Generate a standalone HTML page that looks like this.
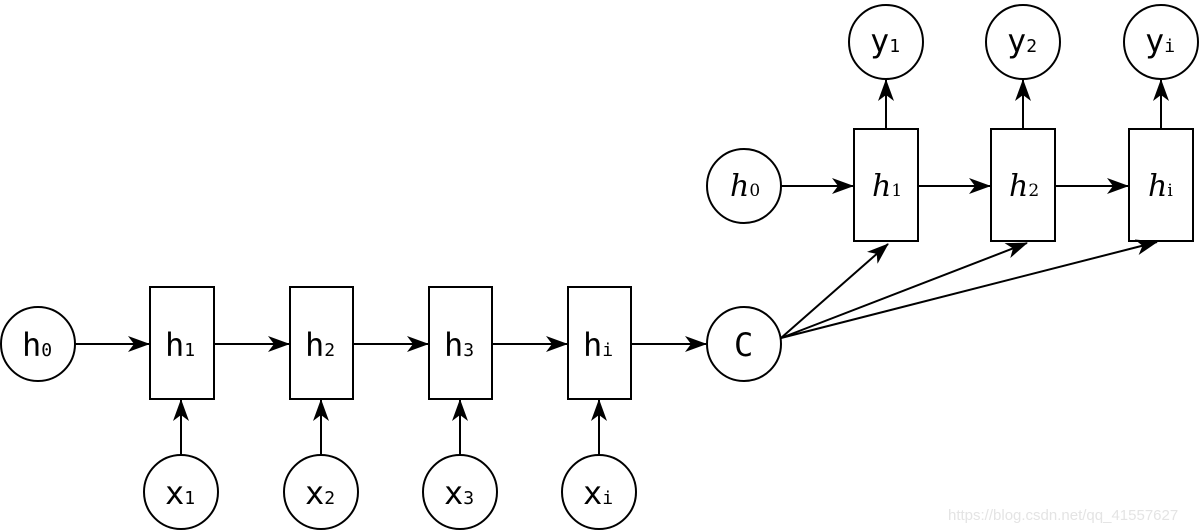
<!DOCTYPE html>
<html><head><meta charset="utf-8"><style>
html,body{margin:0;padding:0;background:#fff;width:1200px;height:531px;overflow:hidden}
svg{display:block}
.m{font-family:"DejaVu Sans Mono","Liberation Mono",monospace;font-size:32px}
.s{font-family:"DejaVu Sans Mono","Liberation Mono",monospace;font-size:18px}
.i{font-family:"DejaVu Serif","Liberation Serif",serif;font-style:italic;font-size:30px}
.is{font-family:"DejaVu Serif","Liberation Serif",serif;font-style:normal;font-size:17px}
</style></head><body>
<svg width="1200" height="531" xmlns="http://www.w3.org/2000/svg">
<defs><marker id="a" markerWidth="22" markerHeight="16" refX="21" refY="8" orient="auto" markerUnits="userSpaceOnUse"><path d="M0,0 L22,8 L0,16 L6,8 Z" fill="#000"/></marker></defs>
<g fill="none" stroke="#000" stroke-width="2">
<circle cx="38" cy="344" r="37"/>
<rect x="150" y="287" width="64" height="112"/>
<rect x="290" y="287" width="63" height="112"/>
<rect x="429" y="287" width="63" height="112"/>
<rect x="568" y="287" width="63" height="112"/>
<circle cx="744" cy="344" r="37"/>
<circle cx="181" cy="492" r="37"/>
<circle cx="321" cy="492" r="37"/>
<circle cx="460" cy="492" r="37"/>
<circle cx="599" cy="492" r="37"/>
<circle cx="744" cy="186" r="37"/>
<rect x="854" y="129" width="64" height="112"/>
<rect x="991" y="129" width="64" height="112"/>
<rect x="1129" y="129" width="64" height="112"/>
<circle cx="886" cy="42" r="37"/>
<circle cx="1023" cy="42" r="37"/>
<circle cx="1161" cy="42" r="37"/>
<g marker-end="url(#a)">
<line x1="75" y1="344" x2="149" y2="344"/>
<line x1="214" y1="344" x2="289" y2="344"/>
<line x1="353" y1="344" x2="428" y2="344"/>
<line x1="492" y1="344" x2="567" y2="344"/>
<line x1="631" y1="344" x2="706" y2="344"/>
<line x1="181" y1="455" x2="181" y2="400"/>
<line x1="321" y1="455" x2="321" y2="400"/>
<line x1="460" y1="455" x2="460" y2="400"/>
<line x1="599" y1="455" x2="599" y2="400"/>
<line x1="781" y1="186" x2="853" y2="186"/>
<line x1="918" y1="186" x2="990" y2="186"/>
<line x1="1055" y1="186" x2="1128" y2="186"/>
<line x1="886" y1="129" x2="886" y2="80"/>
<line x1="1023" y1="129" x2="1023" y2="80"/>
<line x1="1161" y1="129" x2="1161" y2="80"/>
<line x1="781" y1="338" x2="888" y2="244"/>
<line x1="781" y1="338" x2="1027" y2="243"/>
<line x1="781" y1="338" x2="1157" y2="242"/>
</g></g>
<g fill="#000">
<text x="22" y="356" class="m">h<tspan class="s">0</tspan></text>
<text x="165" y="356" class="m">h<tspan class="s">1</tspan></text>
<text x="305" y="356" class="m">h<tspan class="s">2</tspan></text>
<text x="444" y="356" class="m">h<tspan class="s">3</tspan></text>
<text x="583" y="356" class="m">h<tspan class="s">i</tspan></text>
<text x="734" y="356" class="m">C</text>
<text x="165" y="504" class="m">x<tspan class="s">1</tspan></text>
<text x="305" y="504" class="m">x<tspan class="s">2</tspan></text>
<text x="444" y="504" class="m">x<tspan class="s">3</tspan></text>
<text x="583" y="504" class="m">x<tspan class="s">i</tspan></text>
<text x="870" y="52" class="m">y<tspan class="s">1</tspan></text>
<text x="1007" y="52" class="m">y<tspan class="s">2</tspan></text>
<text x="1145" y="52" class="m">y<tspan class="s">i</tspan></text>
<text x="730" y="196" class="i">h<tspan class="is">0</tspan></text>
<text x="872" y="196" class="i">h<tspan class="is">1</tspan></text>
<text x="1009" y="196" class="i">h<tspan class="is">2</tspan></text>
<text x="1148" y="196" class="i">h<tspan class="is">i</tspan></text>
</g>
<text x="948" y="520" font-family="Liberation Sans,sans-serif" font-size="15" fill="#e4e4e4">https://blog.csdn.net/qq_41557627</text>
</svg>
</body></html>
